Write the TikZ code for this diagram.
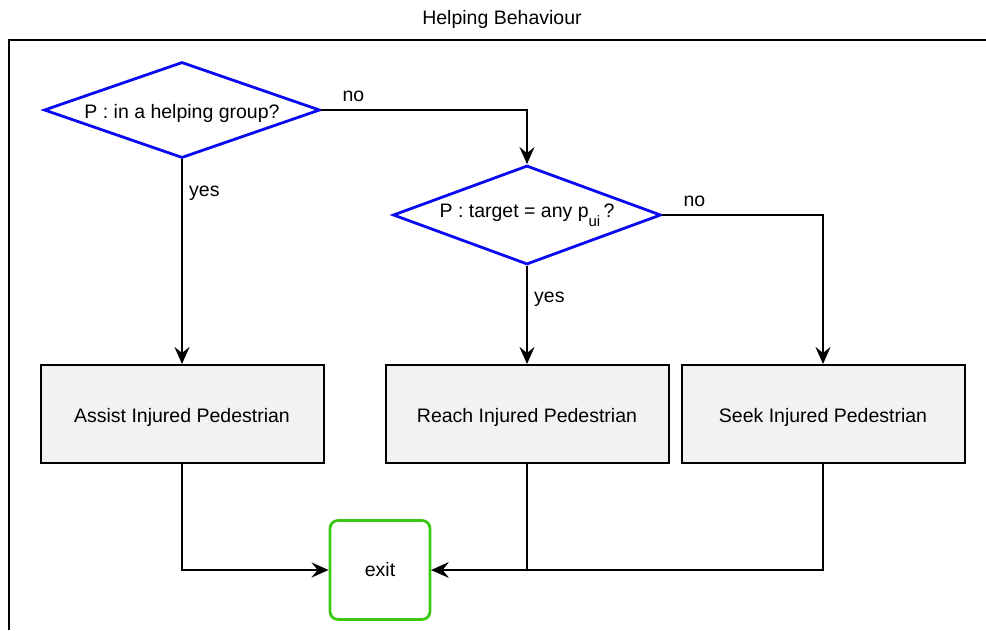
\documentclass[tikz,border=0pt]{standalone}
\usepackage{fontspec}
\setmainfont{Liberation Sans}
\usetikzlibrary{shapes.geometric, arrows.meta, positioning}
\definecolor{decblue}{RGB}{10,10,240}
\definecolor{exitgreen}{RGB}{60,200,20}
\definecolor{boxgray}{RGB}{242,242,242}

\begin{document}
\begin{tikzpicture}[x=1pt, y=-1pt, font=\fontsize{19.5}{22}\selectfont,
	decision/.style = {draw=decblue, line width=2.8pt, diamond, inner sep=0pt, fill=white},
	action/.style = {draw, line width=2pt, line join=miter, fill=boxgray, minimum width=283pt, minimum height=98pt, text height=20pt, text depth=4pt},
	endstate/.style = {draw=exitgreen, line width=2.8pt, rounded corners=8pt, minimum width=100pt, minimum height=99pt},
	flow/.style = {-{Stealth[length=17pt, width=15pt, inset=6pt]}, line width=2.5pt},
	branch/.style = {inner sep=0pt}]

	\useasboundingbox (0,0) rectangle (986,630);

	% lane
	\node (title) at (502,19) {Helping Behaviour};
	\draw[line width=2.8pt] (9,630) -- (9,40) -- (986,40);

	% decisions
	\node[decision, aspect=2.875, minimum width=276pt, minimum height=96pt, text height=20pt, text depth=4pt] (group) at (182,110) {P : in a helping group?};
	\node[decision, aspect=2.7, minimum width=268pt, minimum height=99pt] (target) at (527,215)
		{P : target = any p\raisebox{-9pt}{\fontsize{15}{15}\selectfont ui}\,?};

	% actions
	\node[action] (assist) at (182,414) {Assist Injured Pedestrian};
	\node[action] (reach) at (527,414) {Reach Injured Pedestrian};
	\node[action] (seek) at (823,414) {Seek Injured Pedestrian};

	\node[endstate] (exit) at (380,570) {exit};

	% branch labels
	\node[branch, above right = 8pt and 21pt of group.east] (no1) {no};
	\node[branch, below right = 26pt and 7pt of group.south] (yes1) {yes};
	\node[branch, above right = 8pt and 21pt of target.east] (no2) {no};
	\node[branch, below right = 26pt and 7pt of target.south] (yes2) {yes};

	\draw[flow] (group.east) -| (target.north);
	\draw[flow] (group.south) -- (assist.north);
	\draw[flow] (target.south) -- (reach.north);
	\draw[flow] (target.east) -| (seek.north);

	\draw[flow] (assist.south) |- (exit.west);
	\draw[flow] (reach.south) |- (exit.east);
	\draw[flow] (seek.south) |- (exit.east);

\end{tikzpicture}
\end{document}
